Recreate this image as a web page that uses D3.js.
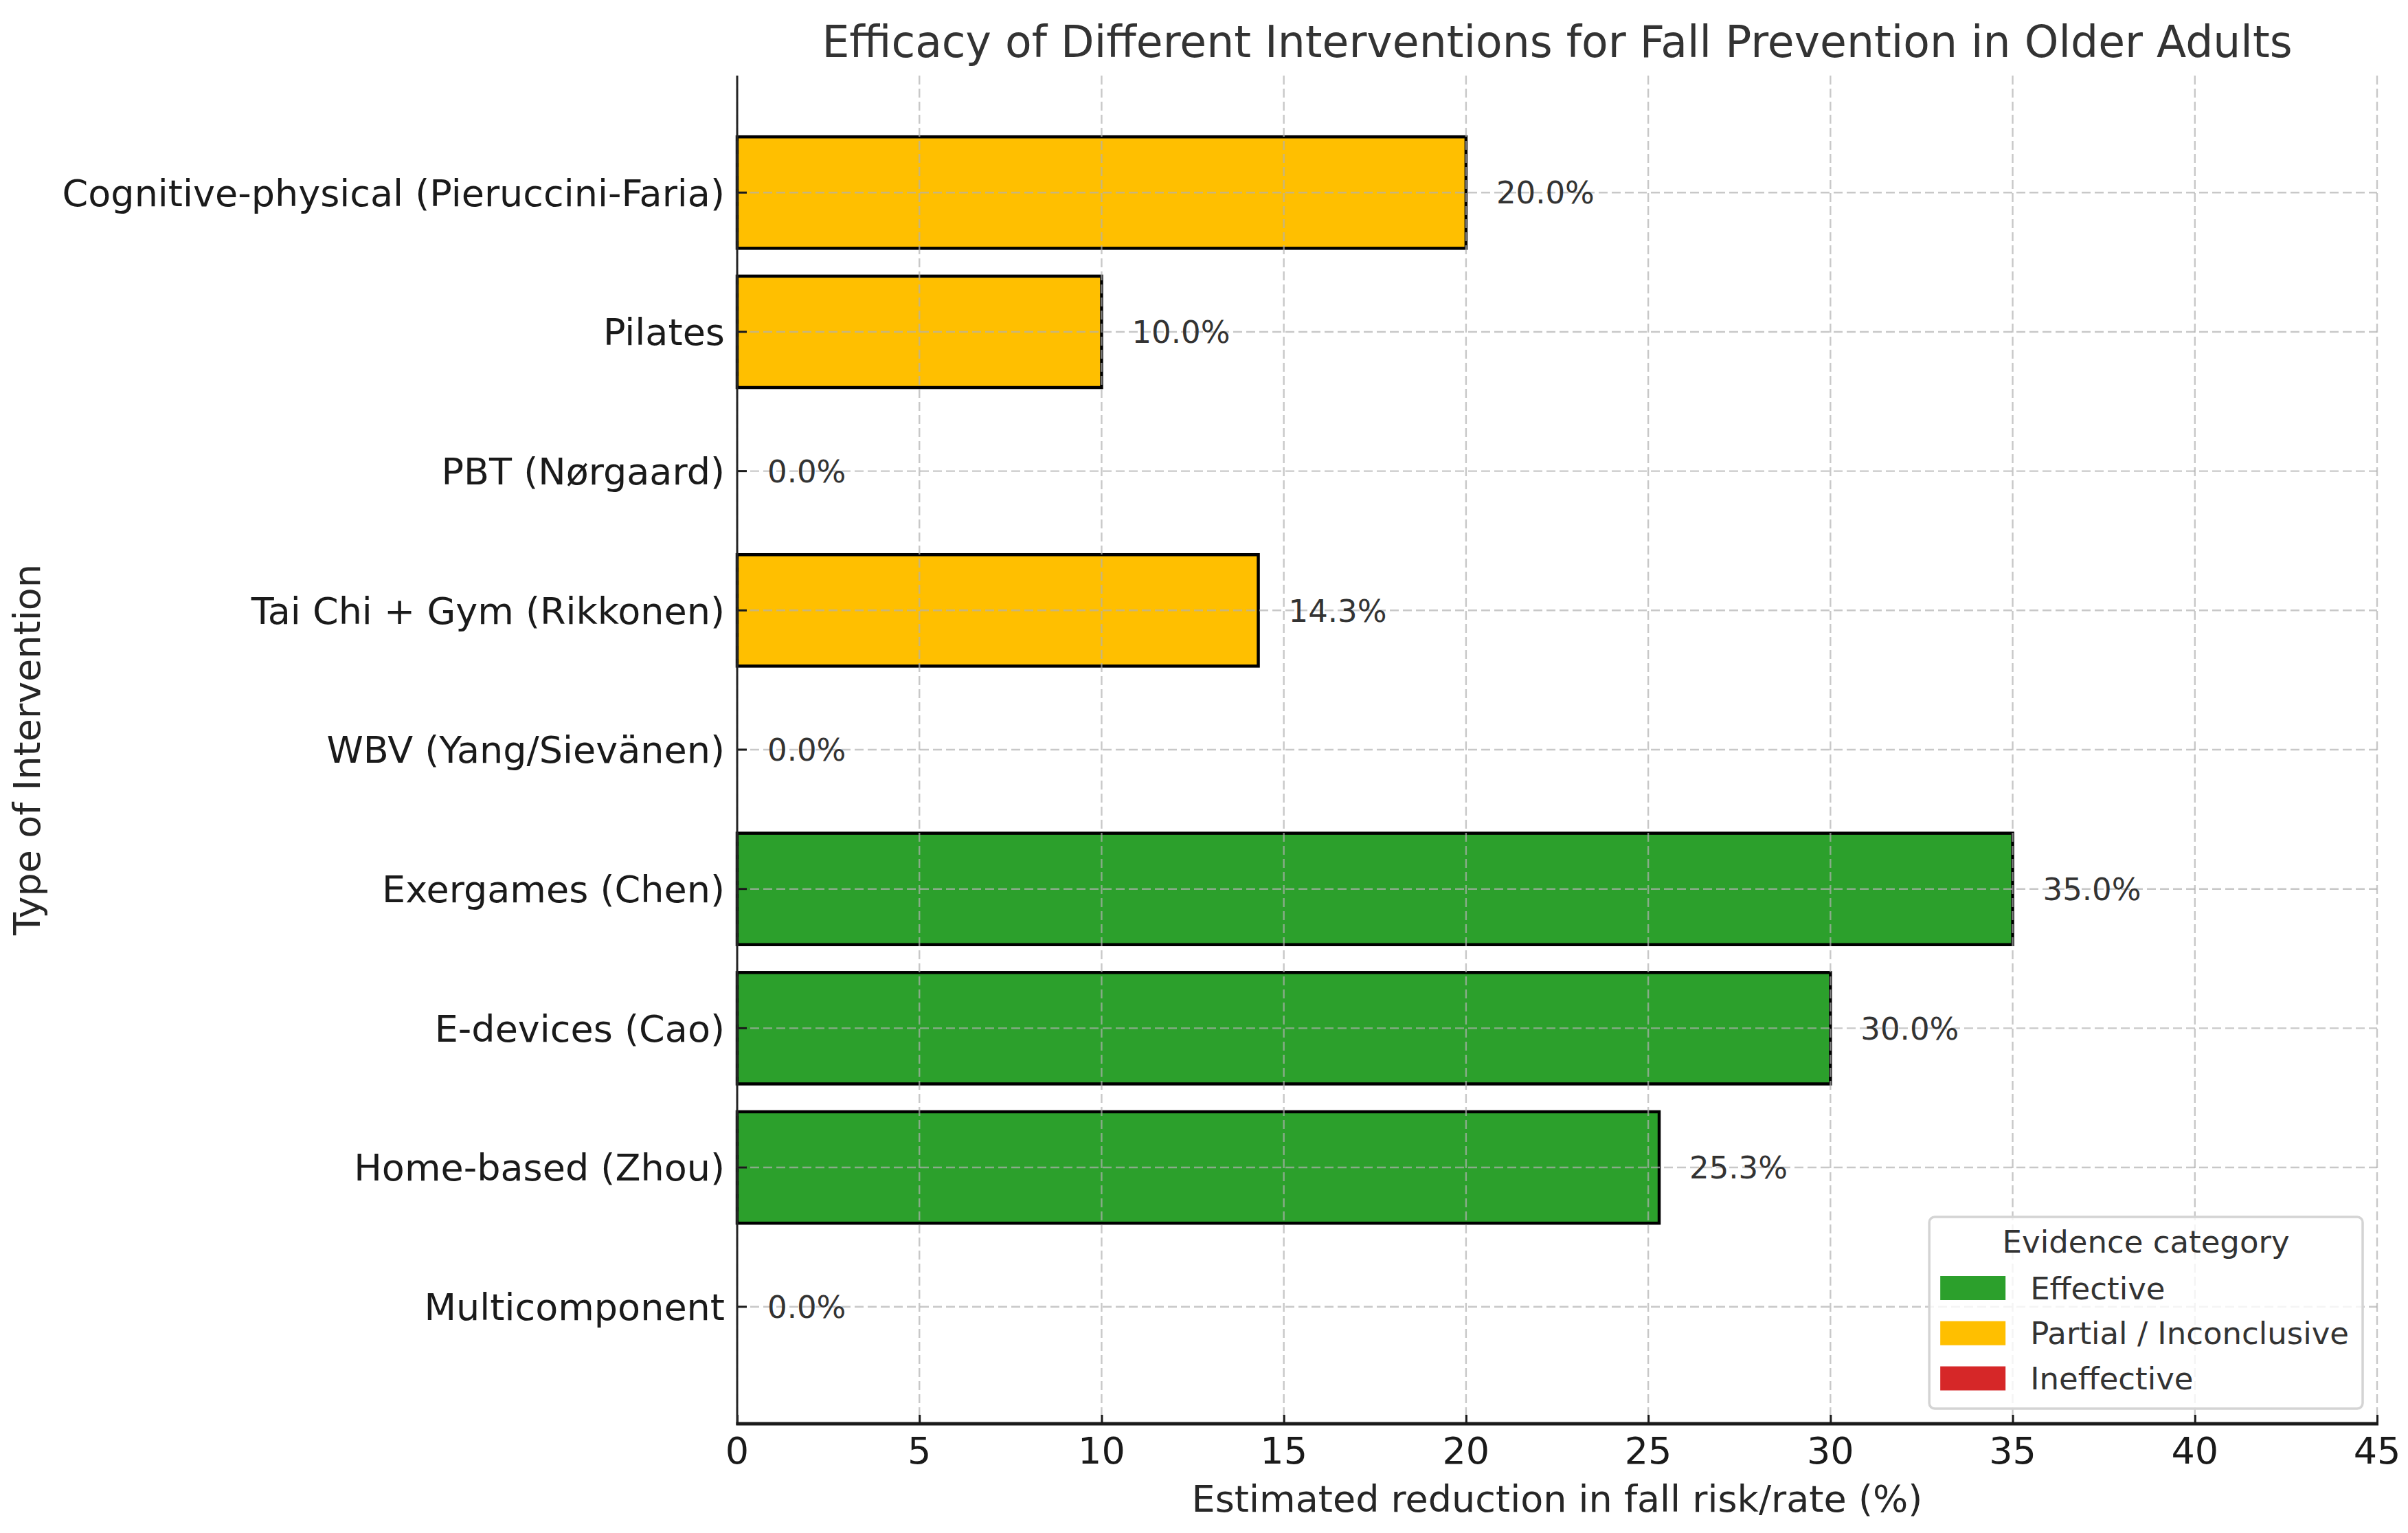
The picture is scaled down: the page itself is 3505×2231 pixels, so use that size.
<!DOCTYPE html>
<html>
<head>
<meta charset="utf-8">
<script src="https://cdn.jsdelivr.net/npm/d3@7"></script>
<style>
  body { margin: 0; background: #ffffff; }
  text { font-family: "DejaVu Sans", sans-serif; }
</style>
</head>
<body>
<div id="chart"></div>
<script>
// chart data, top bar first
var interventions = [
    "Cognitive-physical (Pieruccini-Faria)",
    "Pilates",
    "PBT (Nørgaard)",
    "Tai Chi + Gym (Rikkonen)",
    "WBV (Yang/Sievänen)",
    "Exergames (Chen)",
    "E-devices (Cao)",
    "Home-based (Zhou)",
    "Multicomponent"
];
var reductions = [20.0, 10.0, 0.0, 14.3, 0.0, 35.0, 30.0, 25.3, 0.0];
var evidence = ["Partial / Inconclusive", "Partial / Inconclusive", "Ineffective",
    "Partial / Inconclusive", "Ineffective", "Effective", "Effective", "Effective", "Ineffective"];

var categories = ["Effective", "Partial / Inconclusive", "Ineffective"];
var categoryColors = ["#2ca02c", "#ffbf00", "#d62728"];
var xTicks = [0, 5, 10, 15, 20, 25, 30, 35, 40, 45];

var svgWidth = 3505;
var svgHeight = 2231;

var margin = {
    top: 110,
    right: 45,
    bottom: 159,
    left: 1073
};

var width = svgWidth - margin.left - margin.right;
var height = svgHeight - margin.top - margin.bottom;

var svg = d3.select("#chart")
    .append("svg")
    .attr("width", svgWidth)
    .attr("height", svgHeight)
    .style("background", "#ffffff");

var chartGroup = svg.append("g")
    .attr("transform", `translate(${margin.left}, ${margin.top})`);

// scales
var xLinearScale = d3.scaleLinear()
    .domain([0, 45])
    .range([0, width]);

var yBandScale = d3.scaleBand()
    .domain(interventions)
    .range([0, height])
    .paddingInner(0.2)
    .paddingOuter(0.44);

var colorScale = d3.scaleOrdinal()
    .domain(categories)
    .range(categoryColors);

var rows = interventions.map((name, i) => ({
    name: name,
    value: reductions[i],
    category: evidence[i]
}));

// bars
chartGroup.selectAll(".bar")
    .data(rows)
    .enter()
    .append("rect")
    .attr("class", "bar")
    .attr("x", 0)
    .attr("y", d => yBandScale(d.name))
    .attr("width", d => xLinearScale(d.value))
    .attr("height", yBandScale.bandwidth())
    .attr("fill", d => colorScale(d.category))
    .attr("stroke", d => d.value > 0 ? "#000000" : "none")
    .attr("stroke-width", 4.5);

// grid sits on top of the bars
var gridGroup = chartGroup.append("g")
    .attr("stroke", "#b0b0b0")
    .attr("stroke-opacity", 0.7)
    .attr("stroke-width", 2.4)
    .attr("stroke-dasharray", "13,6");

gridGroup.selectAll(".vgrid")
    .data(xTicks)
    .enter()
    .append("line")
    .attr("x1", d => xLinearScale(d))
    .attr("x2", d => xLinearScale(d))
    .attr("y1", 0)
    .attr("y2", height);

gridGroup.selectAll(".hgrid")
    .data(interventions)
    .enter()
    .append("line")
    .attr("x1", 0)
    .attr("x2", width)
    .attr("y1", d => yBandScale(d) + yBandScale.bandwidth() / 2)
    .attr("y2", d => yBandScale(d) + yBandScale.bandwidth() / 2);

// axes, ticks point inward
var bottomAxis = d3.axisTop(xLinearScale)
    .tickValues(xTicks)
    .tickSize(13)
    .tickFormat("");
var leftAxis = d3.axisRight(yBandScale)
    .tickSize(14)
    .tickFormat("");

var xAxisGroup = chartGroup.append("g")
    .attr("transform", `translate(0, ${height})`)
    .call(bottomAxis);
xAxisGroup.select(".domain").remove();
xAxisGroup.selectAll(".tick line")
    .attr("stroke", "#1a1a1a")
    .attr("stroke-width", 3);

var yAxisGroup = chartGroup.append("g")
    .call(leftAxis);
yAxisGroup.select(".domain").remove();
yAxisGroup.selectAll(".tick line")
    .attr("stroke", "#1a1a1a")
    .attr("stroke-width", 3);

// spines (left and bottom only)
chartGroup.append("line")
    .attr("x1", 0).attr("x2", 0)
    .attr("y1", 0).attr("y2", height + 2)
    .attr("stroke", "#262626")
    .attr("stroke-width", 3);

chartGroup.append("line")
    .attr("x1", -1.5).attr("x2", width + 2)
    .attr("y1", height).attr("y2", height)
    .attr("stroke", "#1a1a1a")
    .attr("stroke-width", 5);

// tick labels
chartGroup.selectAll(".xlabel")
    .data(xTicks)
    .enter()
    .append("text")
    .attr("x", d => xLinearScale(d))
    .attr("y", height + 58)
    .attr("text-anchor", "middle")
    .attr("font-size", 54)
    .attr("fill", "#1a1a1a")
    .text(d => d);

chartGroup.selectAll(".ylabel")
    .data(interventions)
    .enter()
    .append("text")
    .attr("x", -18)
    .attr("y", d => yBandScale(d) + yBandScale.bandwidth() / 2)
    .attr("dy", "0.36em")
    .attr("text-anchor", "end")
    .attr("font-size", 54)
    .attr("fill", "#1a1a1a")
    .text(d => d);

// value labels
chartGroup.selectAll(".value")
    .data(rows)
    .enter()
    .append("text")
    .attr("x", d => xLinearScale(d.value) + 44)
    .attr("y", d => yBandScale(d.name) + yBandScale.bandwidth() / 2)
    .attr("dy", "0.36em")
    .attr("font-size", 45)
    .attr("fill", "#333333")
    .text(d => d.value.toFixed(1) + "%");

// axis titles
chartGroup.append("text")
    .attr("x", width / 2)
    .attr("y", height + 128)
    .attr("text-anchor", "middle")
    .attr("font-size", 54)
    .attr("fill", "#262626")
    .text("Estimated reduction in fall risk/rate (%)");

chartGroup.append("text")
    .attr("transform", `translate(${58 - margin.left}, ${height / 2}) rotate(-90)`)
    .attr("text-anchor", "middle")
    .attr("font-size", 54)
    .attr("fill", "#262626")
    .text("Type of Intervention");

svg.append("text")
    .attr("x", margin.left + width / 2)
    .attr("y", 83)
    .attr("text-anchor", "middle")
    .attr("font-size", 63.2)
    .attr("fill", "#333333")
    .text("Efficacy of Different Interventions for Fall Prevention in Older Adults");

// legend, lower right
var legendGroup = chartGroup.append("g");
var legendBox = legendGroup.append("rect")
    .attr("fill", "#ffffff")
    .attr("fill-opacity", 0.8)
    .attr("stroke", "#d4d4d4")
    .attr("stroke-width", 3.5)
    .attr("rx", 8);

var legendTitle = legendGroup.append("text")
    .attr("text-anchor", "middle")
    .attr("font-size", 45)
    .attr("fill", "#333333")
    .text("Evidence category");

var legendItems = legendGroup.selectAll(".item")
    .data(categories)
    .enter()
    .append("g");

legendItems.append("rect")
    .attr("x", 16)
    .attr("y", (d, i) => 86 + i * 65.75)
    .attr("width", 95)
    .attr("height", 35)
    .attr("fill", d => colorScale(d));

var legendLabels = legendItems.append("text")
    .attr("x", 147)
    .attr("y", (d, i) => 86 + 17.5 + i * 65.75)
    .attr("dy", "0.36em")
    .attr("font-size", 45)
    .attr("fill", "#333333")
    .text(d => d);

var maxLabel = d3.max(legendLabels.nodes(), n => n.getComputedTextLength());
var legendWidth = 147 + maxLabel + 20;
var legendHeight = 279;

legendBox.attr("width", legendWidth).attr("height", legendHeight);
legendTitle.attr("x", legendWidth / 2).attr("y", 52);
legendGroup.attr("transform",
    `translate(${width - 21 - legendWidth}, ${height - 22 - legendHeight})`);
</script>
</body>
</html>
